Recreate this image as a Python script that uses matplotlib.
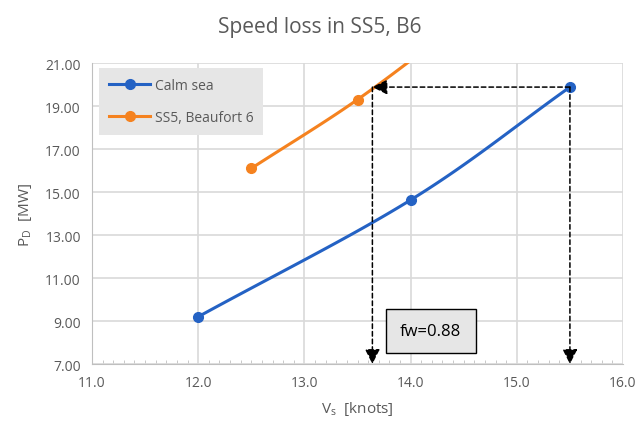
import numpy as np
import matplotlib.pyplot as plt
from matplotlib.ticker import MultipleLocator

plt.rcParams['font.family'] = ['Open Sans', 'DejaVu Sans']

# speed [knots] vs delivered power [MW]
v_calm = [12.0, 14.0, 15.5]
p_calm = [9.2, 14.63, 19.88]
v_ss5 = [12.5, 13.5, 14.5]
p_ss5 = [16.1, 19.3, 23.0]
# speed at the calm-sea power, calm vs. SS5
v_ref = 15.5
v_loss = 13.64
fw_text = 'fw=0.88'
x_ticks = [11.0, 12.0, 13.0, 14.0, 15.0, 16.0]
y_ticks = [7.0, 9.0, 11.0, 13.0, 15.0, 17.0, 19.0, 21.0]

blue = '#2462c4'
orange = '#f5821f'
grid_c = '#d9d9d9'
txt_c = '#595959'


def smooth(x, y, n=60):
    # Catmull-Rom style smoothing between the given points
    x = np.asarray(x, float)
    y = np.asarray(y, float)
    P = np.column_stack([x, y])
    pts = [P[0] - (P[1] - P[0])] + list(P) + [P[-1] + (P[-1] - P[-2])]
    out = []
    for i in range(1, len(pts) - 2):
        p0, p1, p2, p3 = pts[i - 1], pts[i], pts[i + 1], pts[i + 2]
        c1 = p1 + (p2 - p0) / 6
        c2 = p2 - (p3 - p1) / 6
        t = np.linspace(0, 1, n)[:, None]
        seg = ((1 - t) ** 3) * p1 + 3 * ((1 - t) ** 2) * t * c1 + 3 * (1 - t) * t ** 2 * c2 + t ** 3 * p2
        out.append(seg)
    s = np.vstack(out)
    return s[:, 0], s[:, 1]


fig = plt.figure(figsize=(6.39, 4.31), dpi=100)
ax = fig.add_axes([0.144, 0.153, 0.831, 0.6985])

xs, ys = smooth(v_calm, p_calm)
ax.plot(xs, ys, color=blue, lw=2.2, zorder=3)
ax.plot(v_calm, p_calm, 'o', color=blue, ms=7, zorder=4)
xs, ys = smooth(v_ss5, p_ss5)
ax.plot(xs, ys, color=orange, lw=2.2, zorder=3)
ax.plot(v_ss5, p_ss5, 'o', color=orange, ms=7, zorder=4)

# legend handles
ax.plot([], [], '-o', color=blue, lw=2.2, ms=7, label='Calm sea')
ax.plot([], [], '-o', color=orange, lw=2.2, ms=7, label='SS5, Beaufort 6')

p_top = p_calm[-1]
arr = dict(arrowstyle='-|>,head_width=0.45,head_length=0.9', color='black',
           lw=1.1, linestyle=(0, (3, 2)), shrinkA=0, shrinkB=0)
ax.annotate('', xy=(v_loss, p_top), xytext=(v_ref, p_top), arrowprops=arr, zorder=5)
ax.annotate('', xy=(v_loss, 7.0), xytext=(v_loss, p_top), arrowprops=arr, zorder=5)
ax.annotate('', xy=(v_ref, 7.0), xytext=(v_ref, p_top), arrowprops=arr, zorder=5)

ax.text(14.19, 8.55, fw_text, ha='center', va='center', fontsize=12, color='black',
        bbox=dict(boxstyle='square,pad=0.85', fc='#e6e6e6', ec='black', lw=1.0), zorder=6)

ax.set_xticks(x_ticks)
ax.set_xticklabels([f'{v:.1f}' for v in x_ticks])
ax.set_yticks(y_ticks)
ax.set_yticklabels([f'{v:.2f}' for v in y_ticks])
ax.xaxis.set_minor_locator(MultipleLocator(0.1))
ax.set_xlim(11, 16)
ax.set_ylim(7, 21)
ax.grid(True, color=grid_c, lw=1.2, zorder=0)
ax.set_axisbelow(True)
ax.tick_params(axis='both', which='major', length=0, labelsize=10, labelcolor=txt_c, pad=8)
ax.tick_params(axis='x', which='minor', direction='in', length=3, color='#bfbfbf')
for side in ['top', 'right']:
    ax.spines[side].set_visible(False)
for side in ['left', 'bottom']:
    ax.spines[side].set_color('#bfbfbf')

ax.set_xlabel(r'V$_\mathregular{s}$  [knots]', fontsize=11, color=txt_c, labelpad=6)
ax.set_ylabel(r'P$_\mathregular{D}$  [MW]', fontsize=11, color=txt_c, labelpad=8)
fig.suptitle('Speed loss in SS5, B6', fontsize=15, color=txt_c, y=0.96)

leg = ax.legend(loc='upper left', bbox_to_anchor=(0.0, 1.005), fontsize=10,
                frameon=True, fancybox=False, facecolor='#e6e6e6', edgecolor='none',
                framealpha=1, handlelength=3.0, borderpad=0.7, labelspacing=1.2,
                handletextpad=0.3)
for t in leg.get_texts():
    t.set_color(txt_c)

fig.savefig('out.png', dpi=100)
